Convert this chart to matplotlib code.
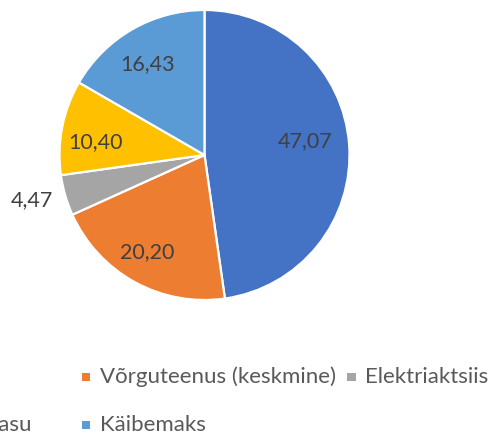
import numpy as np
import matplotlib
matplotlib.use("Agg")
import matplotlib.pyplot as plt
from matplotlib.patches import Rectangle

# Elektri hinna koostis
categories = ["Elektrienergia", "Võrguteenus (keskmine)", "Elektriaktsiis",
              "Taastuvenergia tasu", "Käibemaks"]
values = [47.07, 20.20, 4.47, 10.40, 16.43]
colors = ["#4472C4", "#ED7D31", "#A5A5A5", "#FFC000", "#5B9BD5"]
value_labels = ["47,07", "20,20", "4,47", "10,40", "16,43"]

# label placement (radius fraction, angle nudge in degrees)
label_r = [0.70, 0.78, 1.23, 0.76, 0.74]
label_da = [3.9, -1.6, -1.5, 4.2, 2.3]

W, H = 489, 438
fig = plt.figure(figsize=(W / 100, H / 100), dpi=100)
plt.rcParams["font.family"] = ["Lato", "DejaVu Sans"]

cx, cy, R = 204.5, 155, 145
ax = fig.add_axes([(cx - R) / W, (H - cy - R) / H, 2 * R / W, 2 * R / H])
wedges, _ = ax.pie(values, colors=colors, startangle=90, counterclock=False,
                   radius=1, wedgeprops=dict(edgecolor="white", linewidth=1.6))
ax.set_xlim(-1, 1)
ax.set_ylim(-1, 1)
ax.set_aspect("equal")
ax.axis("off")

for w, lab, r, da in zip(wedges, value_labels, label_r, label_da):
    mid = np.deg2rad((w.theta1 + w.theta2) / 2 + da)
    ax.text(r * np.cos(mid), r * np.sin(mid), lab, ha="center", va="center",
            fontsize=15.5, color="#404040", clip_on=False)


# legend in rows of three, equal column widths
def px(x, y):
    return x / W, 1 - y / H


col_w = 265
x0 = 82 - col_w
row_y = [377, 425]
sq = 8.5
for i, (name, c) in enumerate(zip(categories, colors)):
    col, row = i % 3, i // 3
    x = x0 + col * col_w
    y = row_y[row]
    fx, fy = px(x, y + sq / 2)
    fig.add_artist(Rectangle((fx, fy), sq / W, sq / H, transform=fig.transFigure,
                             facecolor=c, edgecolor="none"))
    tx, ty = px(x + 18, y)
    fig.text(tx, ty, name, ha="left", va="center", fontsize=16, color="#595959")

fig.savefig("out.png", dpi=100)
